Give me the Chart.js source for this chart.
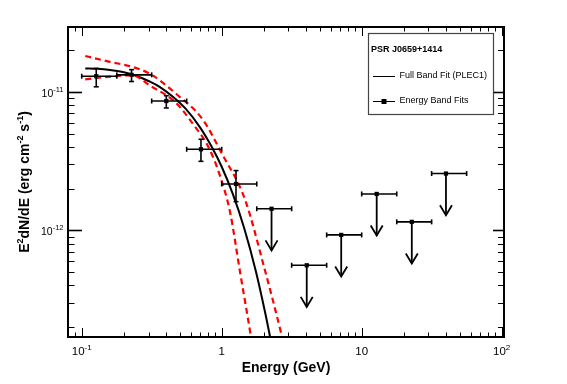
<!DOCTYPE html>
<html>
<head>
<meta charset="utf-8">
<script src="https://cdn.jsdelivr.net/npm/chart.js@4.4.1/dist/chart.umd.min.js"></script>
<style>
  html, body { margin: 0; padding: 0; background: #fff; }
  canvas { display: block; }
</style>
</head>
<body>
<canvas id="sed" width="567" height="384"></canvas>
<script>
// ========== DATA ==========

// energy band fits (GeV, erg cm^-2 s^-1)
const binCenters = [0.127, 0.227, 0.402, 0.711, 1.265, 2.27, 4.05, 7.14, 12.8, 22.8, 40.0];
const binLow     = [0.1, 0.178, 0.316, 0.562, 1.0, 1.78, 3.16, 5.62, 10.0, 17.8, 31.6];
const binHigh    = [0.178, 0.316, 0.562, 1.0, 1.78, 3.16, 5.62, 10.0, 17.8, 31.6, 56.2];
const bandFlux   = [1.30e-11, 1.33e-11, 8.6e-12, 3.85e-12, 2.16e-12, 1.43e-12, 5.58e-13, 9.25e-13, 1.83e-12, 1.15e-12, 2.57e-12];
const fluxLow    = [1.09e-11, 1.19e-11, 7.66e-12, 3.15e-12, 1.61e-12, null, null, null, null, null, null];
const fluxHigh   = [1.48e-11, 1.45e-11, 9.4e-12, 4.55e-12, 2.70e-12, null, null, null, null, null, null];
const isUpperLimit = [false, false, false, false, false, true, true, true, true, true, true];

// full band fit (PLEC1)
const fitEnergy = [0.106, 0.13, 0.16, 0.2, 0.25, 0.3, 0.36, 0.45, 0.55, 0.7, 0.85, 1.0, 1.2, 1.45, 1.75, 2.05, 2.3];
const fitFlux   = [1.48e-11, 1.47e-11, 1.44e-11, 1.39e-11, 1.30e-11, 1.20e-11, 1.09e-11, 9.2e-12, 7.6e-12, 5.55e-12, 4.0e-12, 2.88e-12, 1.83e-12, 1.03e-12, 5.1e-13, 2.5e-13, 1.4e-13];

// 1 sigma band (red dashed)
const upperEnergy = [0.106, 0.159, 0.229, 0.308, 0.472, 0.734, 1.0, 1.47, 2.0, 2.7, 2.92];
const upperFlux   = [1.82e-11, 1.65e-11, 1.52e-11, 1.35e-11, 9.7e-12, 6.3e-12, 3.6e-12, 1.66e-12, 5.5e-13, 1.69e-13, 1.2e-13];
const lowerEnergy = [0.106, 0.159, 0.229, 0.308, 0.472, 0.644, 0.802, 0.973, 1.146, 1.352, 1.618, 1.70];
const lowerFlux   = [1.235e-11, 1.29e-11, 1.32e-11, 1.11e-11, 8.33e-12, 5.61e-12, 4.02e-12, 2.47e-12, 1.36e-12, 4.99e-13, 1.69e-13, 1.21e-13];

// axes
const xRange = [0.0798, 103.9];
const yRange = [1.69e-13, 2.95e-11];
const xTickValues = [0.1, 1, 10, 100];
const xTickLabels = [['10', '-1'], ['1', ''], ['10', ''], ['10', '2']];
const yTickValues = [1e-11, 1e-12];
const yTickLabels = [['10', '-11'], ['10', '-12']];

const FONT = '"Liberation Sans", Arial, Helvetica, sans-serif';

function toPoints(xs, ys) {
    return xs.map((v, i) => ({ x: v, y: ys[i] }));
}

function seg(ctx, x1, y1, x2, y2) {
    ctx.beginPath();
    ctx.moveTo(x1, y1);
    ctx.lineTo(x2, y2);
    ctx.stroke();
}

// draws "10" with a raised exponent
function powerLabel(ctx, base, exp, x, y, align, mainSize, supSize, rise, bold) {
    const w = bold ? 'bold ' : '';
    ctx.font = `${w}${mainSize}px ${FONT}`;
    const w1 = ctx.measureText(base).width;
    ctx.font = `${w}${supSize}px ${FONT}`;
    const w2 = exp ? ctx.measureText(exp).width : 0;
    let x0 = x;
    if (align === 'center') x0 = x - (w1 + w2) / 2;
    else if (align === 'right') x0 = x - w1 - w2;
    ctx.textAlign = 'left';
    ctx.textBaseline = 'alphabetic';
    ctx.font = `${w}${mainSize}px ${FONT}`;
    ctx.fillText(base, x0, y);
    if (exp) {
        ctx.font = `${w}${supSize}px ${FONT}`;
        ctx.fillText(exp, x0 + w1, y - rise);
    }
}

// ========== PLUGINS ==========

const bandErrors = {
    id: 'bandErrors',
    afterDatasetsDraw(chart) {
        const { ctx, scales: { x, y } } = chart;
        ctx.save();
        ctx.strokeStyle = '#000';
        ctx.lineWidth = 1.6;
        binCenters.forEach((e, i) => {
            const px = x.getPixelForValue(e);
            const py = y.getPixelForValue(bandFlux[i]);
            const xl = x.getPixelForValue(binLow[i]);
            const xh = x.getPixelForValue(binHigh[i]);
            seg(ctx, xl, py, xh, py);
            seg(ctx, xl, py - 2.5, xl, py + 2.5);
            seg(ctx, xh, py - 2.5, xh, py + 2.5);
            if (isUpperLimit[i]) {
                const tip = y.getPixelForValue(bandFlux[i] * 0.5);
                ctx.lineWidth = 1.8;
                seg(ctx, px, py, px, tip);
                ctx.beginPath();
                ctx.moveTo(px - 6, tip - 10);
                ctx.lineTo(px, tip);
                ctx.lineTo(px + 6, tip - 10);
                ctx.stroke();
                ctx.lineWidth = 1.6;
            } else {
                const yl = y.getPixelForValue(fluxLow[i]);
                const yh = y.getPixelForValue(fluxHigh[i]);
                seg(ctx, px, yh, px, yl);
                seg(ctx, px - 2.5, yh, px + 2.5, yh);
                seg(ctx, px - 2.5, yl, px + 2.5, yl);
            }
        });
        ctx.restore();
    }
};

const frameAxes = {
    id: 'frameAxes',
    afterDraw(chart) {
        const { ctx, chartArea: a, scales: { x, y } } = chart;
        ctx.save();
        ctx.strokeStyle = '#000';
        ctx.fillStyle = '#000';

        // log ticks, pointing inward on all four sides
        ctx.lineWidth = 1;
        for (let d = -2; d <= 2; d++) {
            for (let m = 1; m <= 9; m++) {
                const v = m * Math.pow(10, d);
                if (v < xRange[0] || v > xRange[1]) continue;
                const px = Math.round(x.getPixelForValue(v)) + 0.5;
                const major = m === 1;
                seg(ctx, px, a.bottom, px, a.bottom - (major ? 9 : 4.5));
                seg(ctx, px, a.top, px, a.top + (major ? 9 : 4.5));
            }
        }
        for (let d = -14; d <= -10; d++) {
            for (let m = 1; m <= 9; m++) {
                const v = m * Math.pow(10, d);
                if (v < yRange[0] || v > yRange[1]) continue;
                const py = Math.round(y.getPixelForValue(v)) + 0.5;
                const major = m === 1;
                ctx.lineWidth = major ? 1.6 : 1;
                seg(ctx, a.left, py, a.left + (major ? 14 : 6.5), py);
                seg(ctx, a.right, py, a.right - (major ? 11 : 6), py);
            }
        }

        // frame
        ctx.lineWidth = 2;
        ctx.strokeRect(a.left, a.top, a.right - a.left, a.bottom - a.top);

        // tick labels
        xTickValues.forEach((v, i) => {
            powerLabel(ctx, xTickLabels[i][0], xTickLabels[i][1], x.getPixelForValue(v), a.bottom + 18, 'center', 11.5, 8, 5.5, false);
        });
        yTickValues.forEach((v, i) => {
            powerLabel(ctx, yTickLabels[i][0], yTickLabels[i][1], a.left - 4.5, y.getPixelForValue(v) + 4.7, 'right', 10.5, 7.5, 4.5, false);
        });

        // axis titles
        ctx.font = `bold 14px ${FONT}`;
        ctx.textAlign = 'center';
        ctx.textBaseline = 'middle';
        ctx.fillText('Energy (GeV)', (a.left + a.right) / 2, 368);

        const parts = [['E', false], ['2', true], ['dN/dE (erg cm', false], ['-2', true], [' s', false], ['-1', true], [')', false]];
        const mainF = `bold 14px ${FONT}`, supF = `bold 9px ${FONT}`;
        let total = 0;
        parts.forEach(p => { ctx.font = p[1] ? supF : mainF; total += ctx.measureText(p[0]).width; });
        ctx.translate(29, (a.top + a.bottom) / 2);
        ctx.rotate(-Math.PI / 2);
        ctx.textAlign = 'left';
        ctx.textBaseline = 'alphabetic';
        let cx = -total / 2;
        parts.forEach(p => {
            ctx.font = p[1] ? supF : mainF;
            ctx.fillText(p[0], cx, p[1] ? -6 : 0);
            cx += ctx.measureText(p[0]).width;
        });
        ctx.restore();

        // legend box
        ctx.save();
        ctx.fillStyle = '#fff';
        ctx.fillRect(368.5, 33.5, 125, 81);
        ctx.strokeStyle = '#444';
        ctx.lineWidth = 1.2;
        ctx.strokeRect(368.5, 33.5, 125, 81);
        ctx.fillStyle = '#000';
        ctx.textAlign = 'left';
        ctx.textBaseline = 'middle';
        ctx.font = `bold 9px ${FONT}`;
        ctx.fillText('PSR J0659+1414', 371, 50);
        ctx.font = `9px ${FONT}`;
        ctx.fillText('Full Band Fit (PLEC1)', 399.5, 76);
        ctx.fillText('Energy Band Fits', 399.5, 101);
        ctx.strokeStyle = '#000';
        ctx.lineWidth = 1;
        seg(ctx, 373, 76.5, 395, 76.5);
        seg(ctx, 373, 101.5, 395, 101.5);
        ctx.fillRect(381.5, 99, 5, 5);
        ctx.restore();
    }
};

// ========== CHART ==========

const curveStyle = { showLine: true, pointRadius: 0, cubicInterpolationMode: 'monotone', clip: 0, fill: false };

new Chart(document.getElementById('sed'), {
    type: 'scatter',
    data: {
        datasets: [
            { ...curveStyle, data: toPoints(upperEnergy, upperFlux), borderColor: '#ff0000', borderWidth: 2.2, borderDash: [6, 4] },
            { ...curveStyle, data: toPoints(lowerEnergy, lowerFlux), borderColor: '#ff0000', borderWidth: 2.2, borderDash: [6, 4] },
            { ...curveStyle, data: toPoints(fitEnergy, fitFlux), borderColor: '#000', borderWidth: 2 },
            { data: toPoints(binCenters, bandFlux), pointStyle: 'rect', pointRadius: 3, backgroundColor: '#000', borderWidth: 0, showLine: false, clip: 0 }
        ]
    },
    options: {
        responsive: false,
        animation: false,
        devicePixelRatio: 1,
        layout: { padding: { left: 68, top: 27, right: 63, bottom: 47 } },
        scales: {
            x: { type: 'logarithmic', min: xRange[0], max: xRange[1], display: false },
            y: { type: 'logarithmic', min: yRange[0], max: yRange[1], display: false }
        },
        plugins: { legend: { display: false }, tooltip: { enabled: false } }
    },
    plugins: [bandErrors, frameAxes]
});
</script>
</body>
</html>
